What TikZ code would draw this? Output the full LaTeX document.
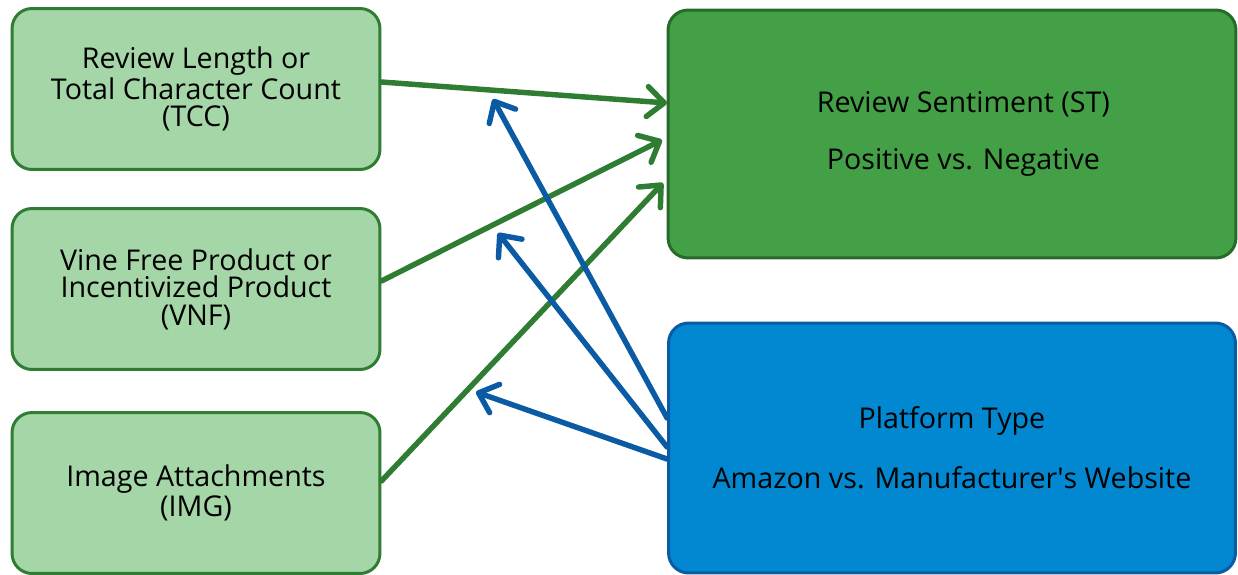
\documentclass[tikz,border=0pt]{standalone}
\usepackage{fontspec}
\setmainfont{Open Sans}
\usetikzlibrary{arrows.meta}
\definecolor{lightfill}{HTML}{A5D6A7}
\definecolor{greenline}{HTML}{2E7D32}
\definecolor{darkfill}{HTML}{43A047}
\definecolor{bluefill}{HTML}{0288D1}
\definecolor{blueline}{HTML}{0A5BA3}
\begin{document}
\begin{tikzpicture}[
        x = 0.02cm,
        y = -0.02cm,
        font = \fontsize{16.3}{15.6}\selectfont,
        every node/.style = {align = center, rounded corners = 0.4cm, line width = 1.7pt},
        factor/.style = {draw = greenline, fill = lightfill, minimum width = 7.36cm, minimum height = 3.22cm},
        outcome/.style = {draw = greenline!85!black, fill = darkfill, minimum width = 11.36cm, minimum height = 4.96cm},
        moderator/.style = {draw = blueline, fill = bluefill, minimum width = 11.34cm, minimum height = 5.0cm},
        greenarrow/.style = {draw = greenline, line width = 3.1pt, line cap = round, -{Straight Barb[length = 3.4mm, width = 6mm, round]}},
        bluearrow/.style = {draw = blueline, line width = 3.1pt, line cap = round, -{Straight Barb[length = 3.4mm, width = 6mm, round]}}
    ]
        \useasboundingbox (0, 0) rectangle (1238, 575);

        \node[factor] (tcc) at (196, 89) {Review Length or\\Total Character Count\\(TCC)};
        \node[factor] (vnf) at (196, 289) {Vine Free Product or\\Incentivized Product\\(VNF)};
        \node[factor] (img) at (196, 493) {Image Attachments\\(IMG)};

        \node[outcome] (st) at (952, 134) {\hspace*{13pt}Review Sentiment (ST)\\[17pt]\hspace*{13pt}Positive vs. Negative};
        \node[moderator] (pt) at (952, 448) {Platform Type\\[17pt]Amazon vs. Manufacturer\textquotesingle s Website};

        % arrow ends
        \coordinate (st1) at (667, 103);
        \coordinate (st2) at (662, 140);
        \coordinate (st3) at (663, 183);
        \coordinate (ar1) at (493, 99);
        \coordinate (ar2) at (498, 233);
        \coordinate (ar3) at (476, 392);

        \draw[greenarrow] (tcc.east |- 0, 82) -- (st1);
        \draw[greenarrow] (vnf.east |- 0, 281) -- (st2);
        \draw[greenarrow] (img.east |- 0, 481) -- (st3);

        \draw[bluearrow] (pt.west |- 0, 418) -- (ar1);
        \draw[bluearrow] (pt.west |- 0, 447) -- (ar2);
        \draw[bluearrow] (pt.west |- 0, 459) -- (ar3);
    \end{tikzpicture}
\end{document}
